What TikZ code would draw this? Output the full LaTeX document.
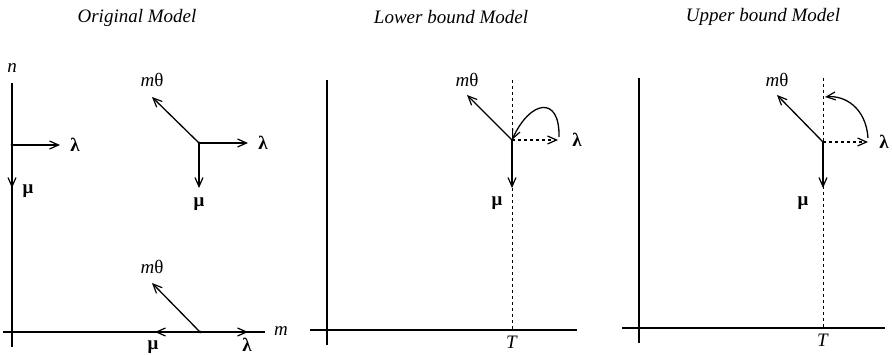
\documentclass[tikz,border=0pt]{standalone}
\usepackage{fontspec}
\setmainfont{Liberation Serif}
\usetikzlibrary{arrows.meta}
\tikzset{
 ax/.style={line width=1.2pt},
 arr/.style={line width=1.3pt, -{Straight Barb[length=9pt,width=8pt,line width=1.2pt]}},
 darr/.style={arr, dash pattern=on 3pt off 3pt},
 dline/.style={line width=1pt, dash pattern=on 3pt off 3pt},
 lbl/.style={font=\fontsize{19}{21}\selectfont, inner sep=0pt},
 ttl/.style={font=\fontsize{19}{21}\selectfont\itshape, inner sep=0pt},
 dot/.style={circle, fill, inner sep=0pt, minimum size=3pt}
}
\newcommand{\gl}[1]{\textbf{#1}}
\begin{document}
\begin{tikzpicture}[x=1pt,y=-1pt]
\useasboundingbox (0,0) rectangle (892,355);
% ---------- Panel 1 ----------
\node[ttl] (t1) at (137,18) {Original Model};
\coordinate (v1t) at (12,83); \coordinate (v1b) at (12,347);
\coordinate (h1l) at (3,332); \coordinate (h1r) at (265,332);
\draw[ax] (v1t) -- (v1b);
\draw[ax] (h1l) -- (h1r);
\node[lbl] (n1) at (12,68) {\textit{n}};
\node[lbl] (m1) at (281,331) {\textit{m}};
\node[dot] (p1) at (12,145) {};
\coordinate (p1r) at (60,145); \coordinate (p1d) at (12,188);
\draw[arr] (p1.center) -- (p1r);
\draw[arr] (p1.center) -- (p1d);
\node[lbl] (l1) at (75,145) {\gl{λ}};
\node[lbl] (mu1) at (28,191) {\gl{μ}};
\node[dot] (q1) at (199,143) {};
\coordinate (q1u) at (152,97); \coordinate (q1r) at (248,143); \coordinate (q1d) at (199,188);
\draw[arr] (q1.center) -- (q1u);
\draw[arr] (q1.center) -- (q1r);
\draw[arr] (q1.center) -- (q1d);
\node[lbl] (mt1) at (152,80) {\textit{m}θ};
\node[lbl] (l1b) at (263,143) {\gl{λ}};
\node[lbl] (mu1b) at (199,204) {\gl{μ}};
\node[dot] (b1) at (200,332) {};
\coordinate (b1u) at (152,283); \coordinate (b1l) at (155,332); \coordinate (b1r) at (248,332);
\draw[arr] (b1.center) -- (b1u);
\draw[arr] (b1.center) -- (b1l);
\draw[arr] (b1.center) -- (b1r);
\node[lbl] (mt1b) at (152,267) {\textit{m}θ};
\node[lbl] (mu1c) at (153,347) {\gl{μ}};
\node[lbl] (l1c) at (247,345) {\gl{λ}};
% ---------- Panel 2 ----------
\node[ttl] (t2) at (451,17) {Lower bound Model};
\coordinate (v2t) at (327,80); \coordinate (v2b) at (327,345);
\coordinate (h2l) at (310,330); \coordinate (h2r) at (577,330);
\coordinate (d2t) at (512,80); \coordinate (d2b) at (512,330);
\draw[ax] (v2t) -- (v2b);
\draw[ax] (h2l) -- (h2r);
\draw[dline] (d2t) -- (d2b);
\node[lbl] (T2) at (512,342) {\textit{T}};
\node[dot] (p2) at (512,140) {};
\coordinate (p2u) at (467,95); \coordinate (p2d) at (512,188); \coordinate (p2r) at (558,140);
\coordinate (c2s) at (559,137);
\draw[arr] (p2.center) -- (p2u);
\draw[arr] (p2.center) -- (p2d);
\draw[darr] (p2.center) -- (p2r);
\draw[arr] (c2s) .. controls (560,95) and (530,100) .. (p2.center);
\node[lbl] (mt2) at (467,80) {\textit{m}θ};
\node[lbl] (mu2) at (497,203) {\gl{μ}};
\node[lbl] (l2) at (577,140) {\gl{λ}};
% ---------- Panel 3 ----------
\node[ttl] (t3) at (763,17) {Upper bound Model};
\coordinate (v3t) at (639,78); \coordinate (v3b) at (639,343);
\coordinate (h3l) at (622,328); \coordinate (h3r) at (885,328);
\coordinate (d3t) at (823,78); \coordinate (d3b) at (823,328);
\draw[ax] (v3t) -- (v3b);
\draw[ax] (h3l) -- (h3r);
\draw[dline] (d3t) -- (d3b);
\node[lbl] (T3) at (823,340) {\textit{T}};
\node[dot] (p3) at (823,142) {};
\coordinate (p3u) at (777,95); \coordinate (p3d) at (823,188); \coordinate (p3r) at (868,142);
\coordinate (c3s) at (868,138); \coordinate (c3e) at (825,97);
\draw[arr] (p3.center) -- (p3u);
\draw[arr] (p3.center) -- (p3d);
\draw[darr] (p3.center) -- (p3r);
\draw[arr] (c3s) .. controls (866,108) and (845,95) .. (c3e);
\node[lbl] (mt3) at (777,80) {\textit{m}θ};
\node[lbl] (mu3) at (803,203) {\gl{μ}};
\node[lbl] (l3) at (884,142) {\gl{λ}};
\end{tikzpicture}
\end{document}
